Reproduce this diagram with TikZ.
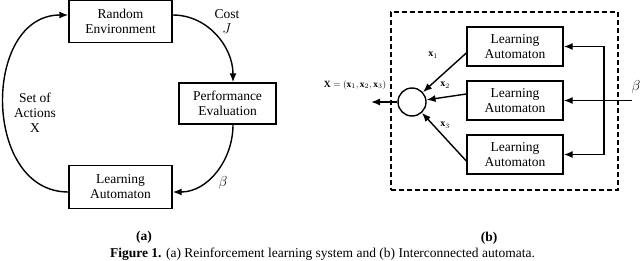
\documentclass[tikz,border=0pt]{standalone}
\usepackage{fontspec}
\setmainfont{Liberation Serif}
\usepackage{amsmath,amssymb}
\usetikzlibrary{arrows,arrows.meta}
\tikzset{>={Latex[length=9pt,width=7pt]}}
\tikzset{
	block/.style={draw, align=center, inner sep=0pt, minimum width=103pt, minimum height=42pt},
	dashframe/.style={draw, dash pattern=on 5pt off 3pt, inner sep=0pt},
	junction/.style={draw, circle, inner sep=0pt, minimum size=28pt},
	mathlabel/.style={font=\fontsize{10}{12}\selectfont},
}
\newcommand{\automaton}[2]{
   \node[block, minimum width=96pt, minimum height=39pt] (#1) at (#2) {Learning\\Automaton};
}

\begin{document}
\begin{tikzpicture}[x=1pt, y=-1pt, line width=1.4pt, font=\fontsize{13.5}{15}\selectfont]
		\useasboundingbox (0,0) rectangle (640,260);

		% (a) Loop
		\node[block] (env) at (120.5,21.5) {Random\\Environment};
		\node[block, minimum width=97pt, minimum height=41pt] (perf) at (227.5,103.5) {Performance\\Evaluation};
		\node[block, minimum height=43pt] (learn) at (120.5,187) {Learning\\Automaton};
		\draw[->] ([yshift=6.5pt]env.east) to [out=0, in=90] ([xshift=5.5pt]perf.north);
		\draw[->] ([xshift=5.5pt]perf.south) to [out=-90, in=0] ([yshift=-5pt]learn.east);
		\draw[->] ([yshift=-5pt]learn.west) to [out=180, in=180, looseness=1.25] ([yshift=6.5pt]env.west);

		% Loop Infos
		\node[align=center] (cost) at (227,22) {Cost\\$J$};
		\node[align=center] (actions) at (35,112.5) {Set of\\Actions\\X};
		\node (beta) at (223,183) {$\beta$};

		% (b) Interconnected
		\node[dashframe, minimum width=227pt, minimum height=178pt] (box) at (504.5,101) {};
		\automaton{la1}{515,46.5}
		\automaton{la2}{515,100.5}
		\automaton{la3}{515,154.5}
		\node[junction] (sum) at (412,102) {};
		\coordinate (out) at (371,102);
		\coordinate (tap) at (604,100.5);
		\coordinate (bin) at (632,100.5);

		\draw[->] (sum) -- (out);
		\draw[->] ([yshift=-6.5pt]la1.west) -- (sum);
		\draw[->] ([yshift=6.5pt]la2.west) -- (sum);
		\draw[->] ([yshift=-6.5pt]la3.west) -- (sum);
		\draw[->] (bin) -- (la2);
		\draw[->] (tap) |- (la1);
		\draw[->] (tap) |- (la3);

		% Interconnected Infos
		\node[mathlabel, font=\fontsize{9.5}{11}\selectfont] (xout) at (355,85) {$\mathbf{X}=(\mathbf{x}_1,\mathbf{x}_2,\mathbf{x}_3)$};
		\node[mathlabel] (x1) at (433,55) {$\mathbf{x}_1$};
		\node[mathlabel] (x2) at (445,85) {$\mathbf{x}_2$};
		\node[mathlabel] (x3) at (445,125) {$\mathbf{x}_3$};
		\node (betain) at (636,87) {$\beta$};

		% Caption
		\node (capa) at (144,237) {\textbf{(a)}};
		\node (capb) at (489,238) {\textbf{(b)}};
		\node (caption) at (322.5,254) {\textbf{Figure 1.} (a) Reinforcement learning system and (b) Interconnected automata.};
	\end{tikzpicture}
\end{document}
